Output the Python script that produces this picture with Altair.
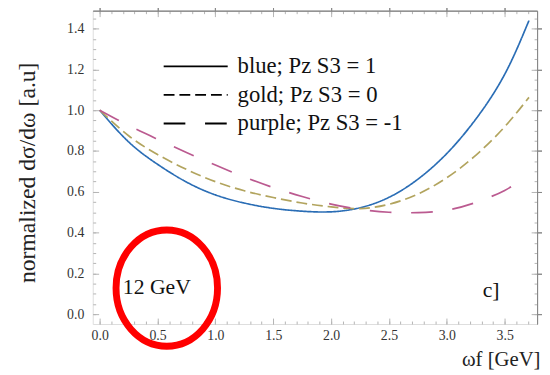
import altair as alt
import pandas as pd

# ---- data ----
series_names = ["blue; Pz S3 = 1", "gold; Pz S3 = 0", "purple; Pz S3 = -1"]

x_blue = [0.0, 0.25, 0.5, 0.75, 1.0, 1.25, 1.5, 1.75, 2.0, 2.25, 2.5, 2.75, 3.0, 3.25, 3.5, 3.71]
y_blue = [1.0, 0.845, 0.735, 0.648, 0.585, 0.545, 0.519, 0.505, 0.502, 0.522, 0.573, 0.662, 0.788, 0.956, 1.176, 1.440]

x_gold = [0.0, 0.25, 0.5, 0.75, 1.0, 1.25, 1.5, 1.75, 2.0, 2.25, 2.5, 2.75, 3.0, 3.25, 3.5, 3.71]
y_gold = [1.0, 0.875, 0.783, 0.710, 0.650, 0.605, 0.572, 0.545, 0.526, 0.518, 0.539, 0.589, 0.669, 0.779, 0.919, 1.063]

x_purple = [0.0, 0.25, 0.5, 0.75, 1.0, 1.25, 1.5, 1.75, 2.0, 2.25, 2.5, 2.75, 3.0, 3.25, 3.5, 3.65]
y_purple = [1.0, 0.925, 0.858, 0.793, 0.731, 0.673, 0.621, 0.577, 0.540, 0.514, 0.500, 0.498, 0.510, 0.548, 0.607, 0.665]

x_major = [0.0, 0.5, 1.0, 1.5, 2.0, 2.5, 3.0, 3.5]
x_minor = [i / 10 for i in range(0, 38)]
y_major = [0.0, 0.2, 0.4, 0.6, 0.8, 1.0, 1.2, 1.4]
y_minor = [i / 20 for i in range(0, 30)]

ann_text = ["12 GeV", "c]"]
ann_x = [0.20, 3.31]
ann_y = [0.135, 0.12]

ring_x = [0.58]
ring_y = [0.128]

# ---- tables ----
rows = []
for name, xs_, ys_ in zip(series_names, [x_blue, x_gold, x_purple], [y_blue, y_gold, y_purple]):
    for i, (a, b) in enumerate(zip(xs_, ys_)):
        rows.append({"series": name, "col": name, "w": a, "v": b, "order": i})
df = pd.DataFrame(rows)
ann_df = pd.DataFrame({"t": ann_text, "w": ann_x, "v": ann_y})
ring_df = pd.DataFrame({"w": ring_x, "v": ring_y})

SERIF = "Liberation Serif"
TICK = "#b4b4b4"
xs = alt.Scale(domain=[-0.06, 3.78], nice=False, zero=False)
ys = alt.Scale(domain=[-0.048, 1.488], nice=False, zero=False)

def tick_axis(orient, values, size):
    return alt.Axis(orient=orient, values=values, offset=-size, tickSize=size,
                    labels=False, domain=False, grid=False, title=None,
                    tickColor=TICK, tickWidth=1, aria=False)

x_lab = alt.Axis(orient="bottom", values=x_major, format=".1f", ticks=False, domain=False,
                 grid=False, labelFont=SERIF, labelFontSize=14, labelColor="#333333",
                 labelPadding=5, title="ωf [GeV]", titleFont=SERIF, titleFontSize=21,
                 titleFontWeight="normal", titleColor="#222222", titleX=454,
                 titleY=36, titleAlign="right", titleBaseline="middle")
y_lab = alt.Axis(orient="left", values=y_major, format=".1f", ticks=False, domain=False,
                 grid=False, labelFont=SERIF, labelFontSize=14, labelColor="#333333",
                 labelPadding=9, title="normalized dσ/dω [a.u]", titleFont=SERIF,
                 titleFontSize=24, titleFontWeight="normal", titleColor="#222222",
                 titleX=-66, titleY=164, titleAngle=270, titleAlign="center",
                 titleBaseline="middle")

lines = alt.Chart(df).mark_line(strokeWidth=1.7, interpolate="natural").encode(
    x=alt.X("w:Q", scale=xs, axis=x_lab),
    y=alt.Y("v:Q", scale=ys, axis=y_lab),
    color=alt.Color("col:N", scale=alt.Scale(range=["#2a6db5", "#b2a45e", "#bb5a90"]),
                    legend=None),
    strokeDash=alt.StrokeDash("series:N", scale=alt.Scale(domain=series_names,
                    range=[[1, 0], [11, 5], [22, 20]]),
                    legend=alt.Legend(title=None, orient="none", legendX=93, legendY=45,
                                      symbolType="M -4 0 L 4 0", symbolSize=264,
                                      symbolStrokeColor="black", symbolStrokeWidth=1.8,
                                      labelFont=SERIF, labelFontSize=23, labelColor="#111111",
                                      rowPadding=5, labelOffset=31, labelLimit=400)),
    order="order:Q",
)

def ghost(xaxis, yaxis):
    return alt.Chart(df).mark_point(opacity=0, size=1).encode(
        x=alt.X("w:Q", scale=xs, axis=xaxis),
        y=alt.Y("v:Q", scale=ys, axis=yaxis),
    )

g1 = ghost(tick_axis("bottom", x_major, 6), tick_axis("left", y_major, 6))
g2 = ghost(tick_axis("bottom", x_minor, 3), tick_axis("left", y_minor, 3))
g3 = ghost(tick_axis("top", x_major, 6), tick_axis("right", y_major, 6))
g4 = ghost(tick_axis("top", x_minor, 3), tick_axis("right", y_minor, 3))

texts = alt.Chart(ann_df).mark_text(font=SERIF, fontSize=22, align="left",
                                    baseline="middle", color="#111111").encode(
    x=alt.X("w:Q", scale=xs), y=alt.Y("v:Q", scale=ys), text="t:N")

ring = alt.Chart(ring_df).mark_point(
    shape="M -0.873 0 A 0.873 1 0 1 0 0.873 0 A 0.873 1 0 1 0 -0.873 0 Z",
    size=13924, filled=False, stroke="#ff0000", strokeWidth=7, opacity=1,
).encode(x=alt.X("w:Q", scale=xs), y=alt.Y("v:Q", scale=ys))

chart = alt.layer(lines, g1, g2, g3, g4, texts, ring).resolve_axis(
    x="independent", y="independent"
).properties(
    width=451, height=318,
    autosize=alt.AutoSizeParams(type="none"),
    padding={"left": 86, "top": 0, "right": 5, "bottom": 47},
).configure_view(stroke="#a8a8a8", strokeWidth=1).configure(background="white")

chart.save("out.html", embed_options={"renderer": "svg", "actions": False})
